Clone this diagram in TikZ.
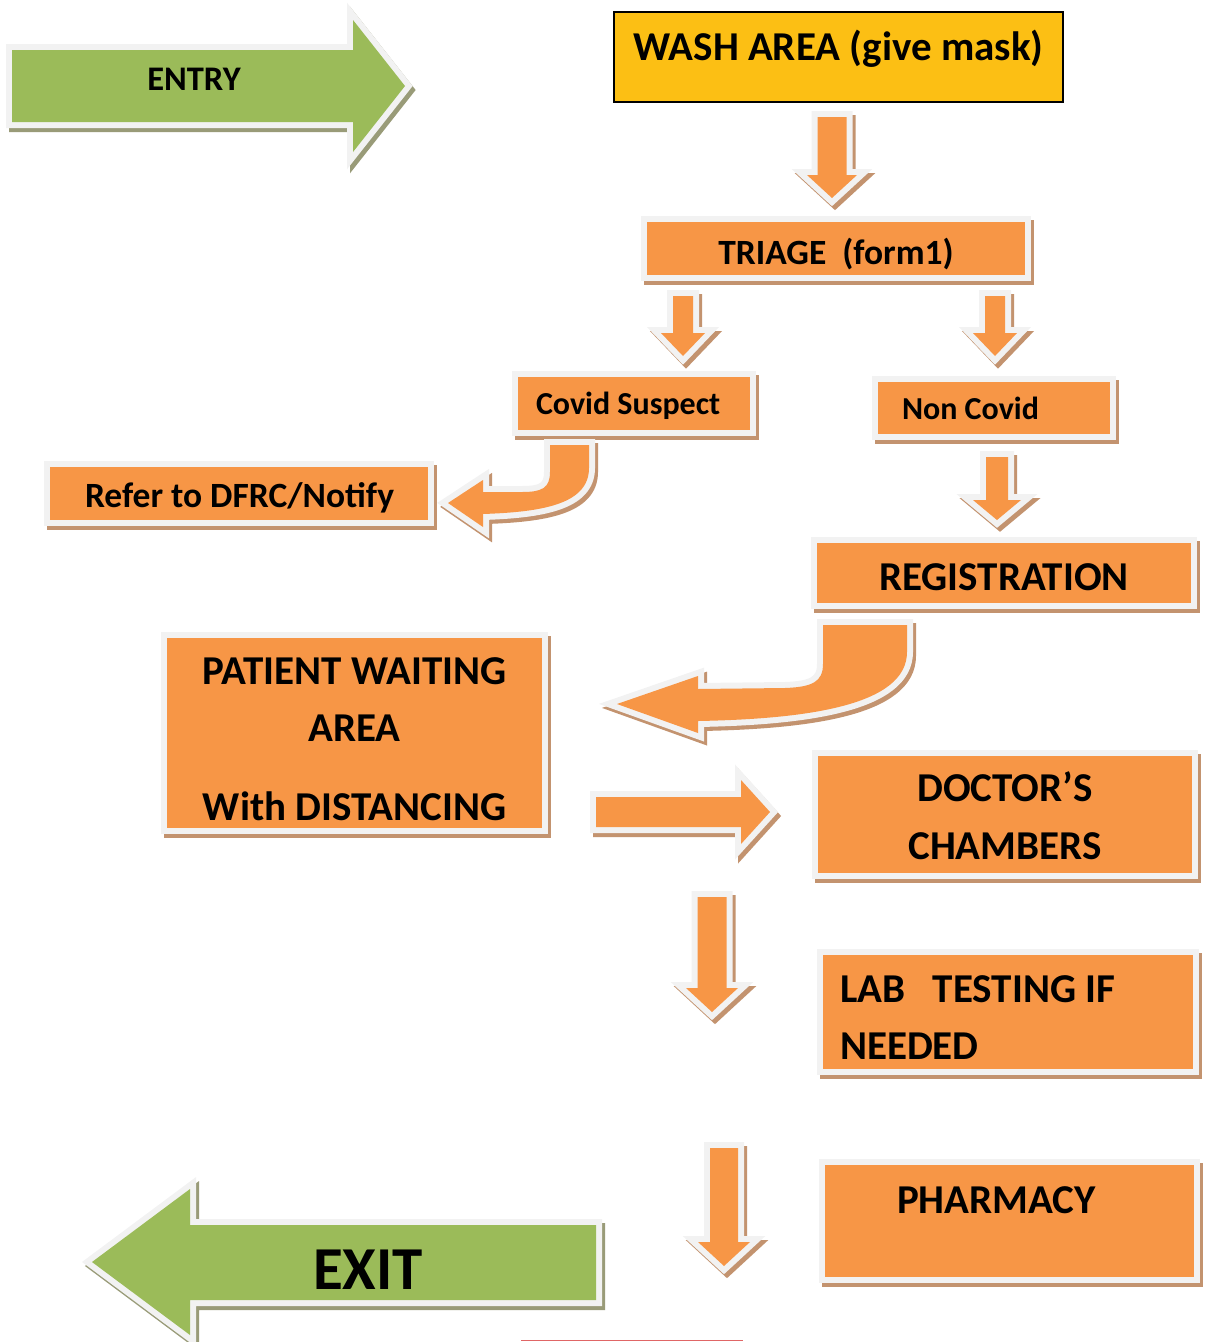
\documentclass[tikz,border=0pt]{standalone}
\usepackage{fontspec}
\setmainfont{Carlito}

\definecolor{boxorange}{HTML}{F79646}
\definecolor{ringgrey}{HTML}{F2F2F2}
\definecolor{shadebrown}{HTML}{C3936F}
\definecolor{arrowgreen}{HTML}{9BBB59}
\definecolor{shadegreen}{HTML}{999B78}
\definecolor{washyellow}{HTML}{FCBF14}
\definecolor{linered}{HTML}{E06666}

\newcommand\topstrut[1]{\rule{0pt}{#1pt}}
\newcommand\botstrut[1]{\rule[-#1pt]{0pt}{#1pt}}

\tikzset{
  shadowed/.style={preaction={draw=#1, fill=#1, line width=12pt, transform canvas={shift={(3pt,-4pt)}}},
                   preaction={draw=ringgrey, fill=ringgrey, line width=12pt}},
  obox/.style={rectangle, anchor=north west, inner sep=0pt, outer sep=0pt, fill=boxorange, shadowed=shadebrown, align=center},
  lbox/.style={obox, align=flush left},
  washbox/.style={rectangle, anchor=north west, inner sep=0pt, outer sep=0pt, fill=washyellow, draw=black, line width=1.5pt, align=center},
  oarrow/.style={fill=boxorange, shadowed=shadebrown},
  garrow/.style={fill=arrowgreen, shadowed=shadegreen},
  fbig/.style={font=\fontsize{41}{57.5}\selectfont\bfseries},
  fmid/.style={font=\fontsize{35.5}{42}\selectfont\bfseries},
  fsmall/.style={font=\fontsize{32}{38}\selectfont\bfseries},
  pics/downarr/.style n args={4}{code={
    \path[oarrow] (-#1,0) -- (#1,0) -- (#1,#3) -- (#2,#3) -- (0,{#3+#4}) -- (-#2,#3) -- (-#1,#3) -- cycle;
  }}
}

\begin{document}
\begin{tikzpicture}[x=1pt, y=-1pt]
  \useasboundingbox (0,0) rectangle (1207,1342);

  % entry arrow
  \path[garrow] (12,50) -- (353,50) -- (353,20) -- (405,86) -- (353,152) -- (353,122) -- (12,122) -- cycle;
  \node[anchor=base, font=\fontsize{34.5}{40}\selectfont\bfseries] (entrylbl) at (194,90) {ENTRY};

  % boxes
  \node[washbox, minimum width=449pt, font=\fontsize{41}{48}\selectfont\bfseries] (wash) at (614,12) {\topstrut{48}WASH AREA (give mask)\botstrut{42}};
  \node[obox, fmid, minimum width=378pt] (triage) at (647,222) {\topstrut{42}TRIAGE\ \ (form1)\botstrut{11}};
  \node[lbox, fsmall, text width=232pt] (covid) at (518,377) {\topstrut{37}\hspace*{18pt}Covid Suspect\botstrut{16}};
  \node[lbox, fsmall, text width=232pt] (noncovid) at (878,382) {\topstrut{37}\hspace*{24pt}Non Covid\botstrut{15}};
  \node[lbox, fmid, text width=378pt] (refer) at (50,467) {\topstrut{40}\hspace*{35pt}Refer to DFRC/Notify\botstrut{13}};
  \node[obox, fbig, minimum width=374pt] (regist) at (817,543) {\topstrut{47}REGISTRATION\botstrut{13}};
  \node[obox, fbig, minimum width=375pt] (waiting) at (167,638) {\topstrut{46}PATIENT WAITING\\AREA\\[21pt]With DISTANCING\botstrut{8}};
  \node[obox, font=\fontsize{41}{58}\selectfont\bfseries, minimum width=374pt] (doctor) at (818,756) {\topstrut{45}DOCTOR’S\\CHAMBERS\botstrut{14}};
  \node[lbox, fbig, text width=370pt] (lab) at (823,955) {\topstrut{47}\hspace*{17pt}LAB\ \ \ TESTING IF\\\hspace*{17pt}NEEDED\botstrut{9}};
  \node[lbox, fbig, text width=369pt] (pharmacy) at (825,1165) {\topstrut{48}\hspace*{72pt}PHARMACY\botstrut{64}};

  % straight arrows
  \pic at (832,117) {downarr={14.5}{25}{58}{23}};
  \pic at (683,296) {downarr={10}{22}{37}{23}};
  \pic at (995,296) {downarr={10}{22}{37}{23}};
  \pic at (997,457) {downarr={11}{24}{43}{20}};
  \pic at (712,897) {downarr={14.5}{26}{91}{24}};
  \pic at (724,1148) {downarr={14}{26}{94}{24}};
  \path[oarrow] (596,797) -- (741,797) -- (741,780) -- (770,812) -- (741,844) -- (741,827) -- (596,827) -- cycle;

  % bent arrows
  \path[oarrow] (550,445) -- (589,445) -- (589,468) .. controls (589,505) and (540,512) .. (483,514) -- (483,527) -- (448,503) -- (483,480) -- (483,492) -- (522,492) .. controls (542,492) and (550,488) .. (550,472) -- cycle;
  \path[oarrow] (823,625) -- (907,625) -- (907,652) .. controls (907,706) and (805,719) .. (698,721) -- (698,733) -- (617,704) -- (698,676) -- (698,689) -- (785,688) .. controls (812,687) and (823,682) .. (823,664) -- cycle;

  % exit arrow
  \path[garrow] (596,1225) -- (190,1225) -- (190,1189) -- (92,1262) -- (190,1335) -- (190,1300) -- (596,1300) -- cycle;
  \node[anchor=base, font=\fontsize{61}{72}\selectfont\bfseries] (exitlbl) at (368,1289) {EXIT};

  \draw[linered, line width=1.4pt] (521,1340.5) -- (743,1340.5);
\end{tikzpicture}
\end{document}
